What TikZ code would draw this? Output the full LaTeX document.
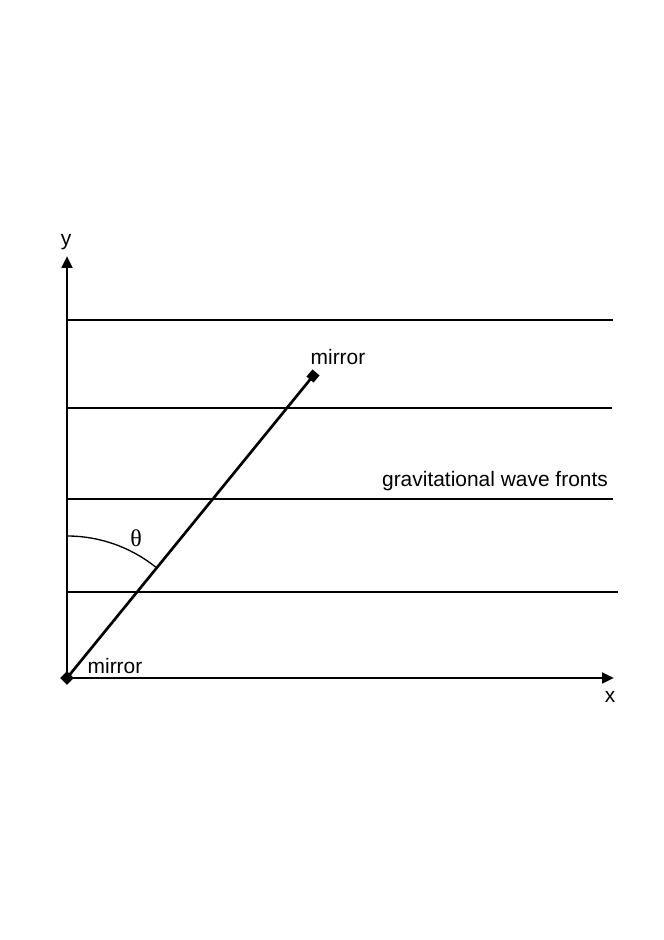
\documentclass[tikz,border=0pt]{standalone}
\usepackage{fontspec}
\setmainfont{Liberation Sans}
\newfontfamily\thetafont{Liberation Serif}
\usetikzlibrary{arrows.meta,shapes.geometric}
\begin{document}
\begin{tikzpicture}[x=0.75pt,y=0.75pt,
  axis/.style={line width=2pt,-{Triangle[length=9pt,width=8pt]}},
  front/.style={line width=1.2pt},
  rod/.style={line width=2pt},
  mirrorbox/.style={diamond,fill=black,inner sep=0pt,minimum size=10pt},
  lbl/.style={font=\fontsize{15.7}{18}\selectfont,inner sep=0pt}]
\useasboundingbox (0,0) rectangle (664,940);
% axes
\node[mirrorbox] (O) at (67,262) {};
\coordinate (xt) at (614,262);
\coordinate (yt) at (67,684);
\draw[axis] (O.center) -- (xt);
\draw[axis] (O.center) -- (yt);
% wave fronts
\coordinate (f1a) at (67,620); \coordinate (f1b) at (613,620);
\coordinate (f2a) at (67,532); \coordinate (f2b) at (612,532);
\coordinate (f3a) at (67,441); \coordinate (f3b) at (613,441);
\coordinate (f4a) at (67,348); \coordinate (f4b) at (618,348);
\draw[front] (f1a) -- (f1b);
\draw[front] (f2a) -- (f2b);
\draw[front] (f3a) -- (f3b);
\draw[front] (f4a) -- (f4b);
% rod
\node[mirrorbox,rotate=5] (M) at (313,564) {};
\draw[rod] (O.center) -- (M.center);
\node[mirrorbox] at (O.center) {};
% angle arc
\draw[line width=1pt] (67,404) arc[start angle=90,end angle=50.8,radius=106.5pt];
% labels
\node[lbl] (tm) at (338,583) {mirror};
\node[lbl] (bm) at (115,274) {mirror};
\node[lbl] (gw) at (495,459) {gravitational wave fronts};
\node[lbl] (xl) at (610,243) {x};
\node[lbl] (yl) at (66,698) {y};
\node[lbl] (th) at (136,402) {\thetafont\fontsize{18}{20}\selectfont θ};
\end{tikzpicture}
\end{document}
